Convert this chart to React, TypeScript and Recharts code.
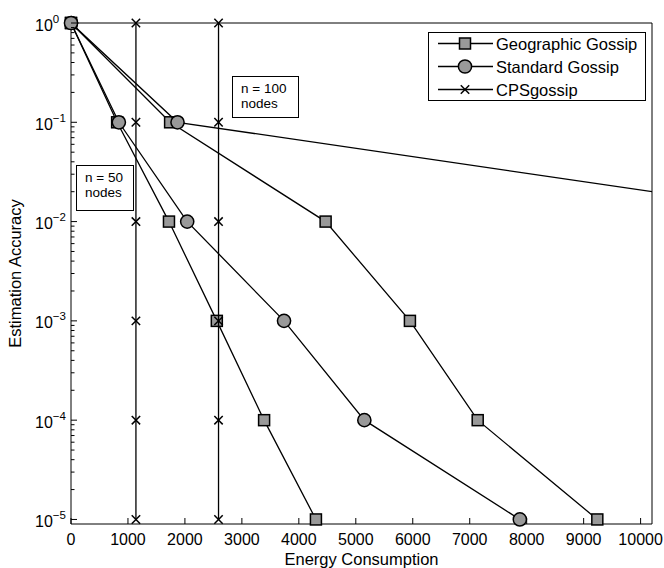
import React from "react";
import { ScatterChart, Scatter, XAxis, YAxis, Legend } from "recharts";

// values (energy vs. accuracy, log y)
const accuracy = [1, 1e-1, 1e-2, 1e-3, 1e-4, 1e-5];
const geoEnergy50 = [0, 810, 1720, 2560, 3390, 4300];
const geoEnergy100 = [0, 1740, 4470, 5950, 7140, 9240];
const stdEnergy50 = [0, 840, 2040, 3740, 5150, 7880];
const stdEnergy100 = [0, 1870, 13800];
const stdAccuracy100 = [1, 1e-1, 1e-2];
const cpsEnergy50 = [1140, 1140, 1140, 1140, 1140, 1140];
const cpsEnergy100 = [2590, 2590, 2590, 2590, 2590, 2590];

const seriesNames = ["Geographic Gossip", "Standard Gossip", "CPSgossip"];
const xTicks = [0, 1000, 2000, 3000, 4000, 5000, 6000, 7000, 8000, 9000, 10000];
const yMajorTicks = [1e-5, 1e-4, 1e-3, 1e-2, 1e-1, 1];
const yExponents = ["\u22125", "\u22124", "\u22123", "\u22122", "\u22121", "0"];

const X_DOMAIN = [0, 10200];
const Y_DOMAIN = [9e-6, 1];
const FONT = '"Liberation Sans", Arial, Helvetica, sans-serif';
const GRAY = "#999999";

const zip = (xs: number[], ys: number[]) => xs.map((x, i) => ({ x, y: ys[i] }));

// log minor ticks between the decades
const yMinorTicks: number[] = [];
yMajorTicks.slice(0, -1).forEach((m) => {
  for (let k = 2; k <= 9; k++) yMinorTicks.push(k * m);
});
const yAllTicks = [...yMajorTicks, ...yMinorTicks].sort((a, b) => a - b);

const isMajor = (v: number) => yMajorTicks.some((m) => Math.abs(m - v) / m < 1e-6);

const Square = ({ cx, cy }: any) => (
  <rect x={cx - 5.5} y={cy - 5.5} width={11} height={11} fill={GRAY} stroke="#000" strokeWidth={1.5} />
);
const Circle = ({ cx, cy }: any) => <circle cx={cx} cy={cy} r={6.6} fill={GRAY} stroke="#000" strokeWidth={1.5} />;
const Cross = ({ cx, cy }: any) => (
  <g stroke="#000" strokeWidth={1.5}>
    <line x1={cx - 4.2} y1={cy - 4.2} x2={cx + 4.2} y2={cy + 4.2} />
    <line x1={cx - 4.2} y1={cy + 4.2} x2={cx + 4.2} y2={cy - 4.2} />
  </g>
);
const markers = [Square, Circle, Cross];

const LeftTick = ({ x, y, payload }: any) => {
  const major = isMajor(payload.value);
  const idx = yMajorTicks.findIndex((m) => Math.abs(m - payload.value) / m < 1e-6);
  return (
    <g>
      <line x1={x} x2={x + (major ? 6 : 3.5)} y1={y} y2={y} stroke="#000" />
      {major && (
        <text x={x - 36} y={y + 7.5} fill="#000" fontSize={16} fontFamily={FONT}>
          <tspan>10</tspan>
          <tspan fontSize={11.5} dy={-8}>
            {yExponents[idx]}
          </tspan>
        </text>
      )}
    </g>
  );
};

const RightTick = ({ x, y, payload }: any) => (
  <line x1={x} x2={x - (isMajor(payload.value) ? 6 : 3.5)} y1={y} y2={y} stroke="#000" />
);

const BottomTick = ({ x, y, payload }: any) => (
  <g>
    <line x1={x} x2={x} y1={y} y2={y - 6} stroke="#000" />
    <text x={x} y={y + 21} textAnchor="middle" fill="#000" fontSize={16} fontFamily={FONT}>
      {payload.value}
    </text>
  </g>
);

const TopTick = ({ x, y }: any) => <line x1={x} x2={x} y1={y} y2={y + 6} stroke="#000" />;

const renderLegend = () => (
  <svg width={218} height={69} style={{ display: "block" }}>
    <rect x={0.5} y={0.5} width={217} height={68} fill="#fff" stroke="#000" />
    {seriesNames.map((name, i) => {
      const cy = 11.5 + i * 23;
      const M = markers[i];
      return (
        <g key={name}>
          <line x1={10} x2={65} y1={cy} y2={cy} stroke="#000" strokeWidth={1.3} />
          <M cx={37} cy={cy} />
          <text x={68} y={cy + 6} fontSize={16.5} fill="#000" fontFamily={FONT}>
            {name}
          </text>
        </g>
      );
    })}
  </svg>
);

const boxStyle: React.CSSProperties = {
  position: "absolute",
  border: "1px solid #000",
  background: "#fff",
  boxSizing: "border-box",
  fontFamily: FONT,
  fontSize: 13.5,
  lineHeight: "14.5px",
  color: "#000",
  paddingTop: 5,
};

const lineStyle = { stroke: "#000", strokeWidth: 1.3 };

export default function App() {
  return (
    <div style={{ position: "absolute", left: 0, top: 0, width: 664, height: 568, background: "#fff" }}>
      <ScatterChart
        width={664}
        height={568}
        margin={{ top: 22, right: 11, bottom: 0, left: 11 }}
        style={{ fontFamily: FONT }}
      >
        <XAxis
          type="number"
          dataKey="x"
          domain={X_DOMAIN}
          ticks={xTicks}
          interval={0}
          height={44}
          tickSize={0}
          tickMargin={0}
          tickLine={false}
          tick={BottomTick}
          axisLine={{ stroke: "#000" }}
          label={{ value: "Energy Consumption", position: "insideBottom", offset: 3, fontSize: 16.5, fill: "#000" }}
        />
        <XAxis
          xAxisId="top"
          orientation="top"
          type="number"
          dataKey="x"
          domain={X_DOMAIN}
          ticks={xTicks}
          interval={0}
          height={1}
          tickSize={0}
          tickMargin={0}
          tickLine={false}
          tick={TopTick}
          axisLine={{ stroke: "#000" }}
        />
        <XAxis xAxisId="clip" type="number" dataKey="x" domain={X_DOMAIN} allowDataOverflow hide />
        <YAxis
          type="number"
          dataKey="y"
          scale="log"
          domain={Y_DOMAIN}
          ticks={yAllTicks}
          interval={0}
          width={60}
          tickSize={0}
          tickMargin={0}
          tickLine={false}
          tick={LeftTick}
          axisLine={{ stroke: "#000" }}
          label={{
            value: "Estimation Accuracy",
            angle: -90,
            position: "insideLeft",
            offset: 4,
            fontSize: 16.5,
            fill: "#000",
            style: { textAnchor: "middle" },
          }}
        />
        <YAxis
          yAxisId="right"
          orientation="right"
          type="number"
          dataKey="y"
          scale="log"
          domain={Y_DOMAIN}
          ticks={yAllTicks}
          interval={0}
          width={1}
          tickSize={0}
          tickMargin={0}
          tickLine={false}
          tick={RightTick}
          axisLine={{ stroke: "#000" }}
        />
        <Legend
          layout="vertical"
          align="center"
          verticalAlign="middle"
          content={renderLegend}
          wrapperStyle={{ left: 428, top: 32, width: 218, height: 69 }}
        />
        <Scatter
          name="Geographic Gossip n=50"
          data={zip(geoEnergy50, accuracy)}
          line={lineStyle}
          shape={Square}
          isAnimationActive={false}
        />
        <Scatter
          name="Geographic Gossip n=100"
          data={zip(geoEnergy100, accuracy)}
          line={lineStyle}
          shape={Square}
          isAnimationActive={false}
        />
        <Scatter
          name="Standard Gossip n=100"
          xAxisId="clip"
          data={zip(stdEnergy100, stdAccuracy100)}
          line={lineStyle}
          shape={Circle}
          isAnimationActive={false}
        />
        <Scatter
          name="Standard Gossip n=50"
          data={zip(stdEnergy50, accuracy)}
          line={lineStyle}
          shape={Circle}
          isAnimationActive={false}
        />
        <Scatter
          name="CPSgossip n=50"
          data={zip(cpsEnergy50, accuracy)}
          line={lineStyle}
          shape={Cross}
          isAnimationActive={false}
        />
        <Scatter
          name="CPSgossip n=100"
          data={zip(cpsEnergy100, accuracy)}
          line={lineStyle}
          shape={Cross}
          isAnimationActive={false}
        />
      </ScatterChart>
      <div style={{ ...boxStyle, left: 232, top: 76, width: 67, height: 42, paddingLeft: 8 }}>
        n = 100
        <br />
        nodes
      </div>
      <div style={{ ...boxStyle, left: 76, top: 165, width: 58, height: 46, paddingLeft: 8 }}>
        n = 50
        <br />
        nodes
      </div>
    </div>
  );
}
